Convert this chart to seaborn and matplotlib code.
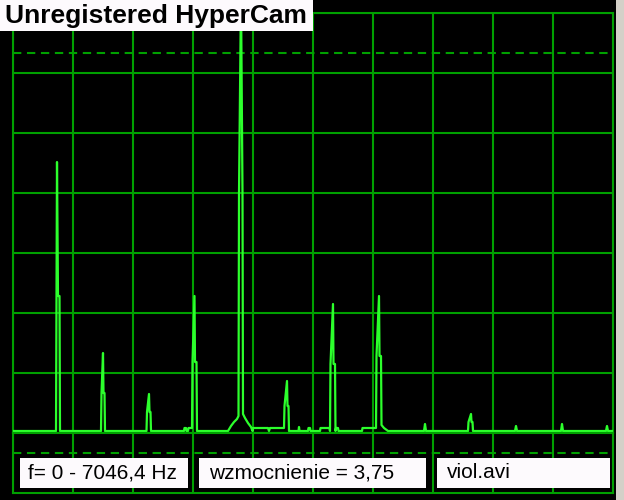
import matplotlib
matplotlib.use("Agg")
import matplotlib.pyplot as plt
import seaborn as sns
import pandas as pd
from matplotlib.patches import Rectangle

# ---- data: spectrum (FFT bin 0..600 spans 0 - 7046.4 Hz), amplitude in screen units ----
freq_bin = [0, 43, 44, 45, 46.5, 47,
            88, 88.5, 90, 90.5, 91.5, 92,
            133.5, 134, 136, 136.5, 137.5, 138,
            171, 171.5, 173, 173.5, 175, 175.5, 179,
            179.5, 181.5, 182, 183.5, 184,
            215, 218, 221, 224, 225.5, 226, 228, 229.5, 230, 232, 235, 238, 239.5,
            240, 255, 256, 257, 271,
            271.5, 274, 274.5, 275.5, 276,
            285.5, 286, 286.5, 295, 295.5, 297, 297.5, 307, 307.5, 316.5, 317,
            317.5, 320, 320.5, 322, 322.5, 323, 325, 325.5,
            349, 349.5, 363,
            363.5, 366, 366.5, 368, 368.5, 371, 375,
            411, 412, 413,
            455, 455.5, 458, 458.5, 459.5, 460,
            502, 503, 504,
            548, 549, 550,
            593, 594, 595, 600]
amplitude = [2, 2, 271, 137, 137, 2,
             2, 40, 80, 40, 40, 2,
             2, 21, 39, 21, 21, 2,
             2, 5, 5, 2, 2, 5, 5,
             71, 137, 71, 71, 2,
             2, 7, 11, 14, 17, 240, 440, 240, 19, 15, 10, 6, 2,
             5, 5, 2, 5, 5,
             27, 52, 27, 27, 2,
             2, 6, 2, 2, 5, 5, 2, 2, 5, 5, 2,
             69, 129, 69, 69, 2, 5, 5, 2,
             2, 5, 5,
             77, 137, 77, 77, 8, 5, 2,
             2, 9, 2,
             2, 11, 19, 11, 11, 2,
             2, 7, 2,
             2, 9, 2,
             2, 7, 2, 2]

title_text = "Unregistered HyperCam"
range_label = "f= 0 - 7046,4 Hz"
gain_label = "wzmocnienie = 3,75"
file_label = "viol.avi"

df = pd.DataFrame({"bin": freq_bin, "amp": amplitude})

sns.set_style("dark")
plt.rcParams["font.family"] = ["Liberation Sans", "DejaVu Sans"]

GRID = "#00a000"
TRACE = "#2cff2c"
W, H = 624, 500
fig = plt.figure(figsize=(W / 100, H / 100), dpi=100, facecolor="black")

def px_rect(x0, y0, x1, y1):
    return [x0 / W, 1 - y1 / H, (x1 - x0) / W, (y1 - y0) / H]

# main spectrum axes
ax = fig.add_axes(px_rect(13, 13, 613, 433))
ax.set_facecolor("black")
sns.lineplot(data=df, x="bin", y="amp", ax=ax, sort=False, estimator=None,
             color=TRACE, linewidth=1.6, zorder=5)
ax.set_xlim(0, 600)
ax.set_ylim(0, 420)
ax.set_xticks(range(0, 601, 60))
ax.set_yticks(range(0, 421, 60))
ax.grid(True, color=GRID, linewidth=1.5)
ax.axhline(380, color=GRID, linewidth=1.5, dashes=(4, 2.7), zorder=2)
ax.tick_params(length=0, labelbottom=False, labelleft=False)
ax.set_xlabel("")
ax.set_ylabel("")
for s in ax.spines.values():
    s.set_color(GRID)
    s.set_linewidth(1.5)
    s.set_visible(True)

# bottom status panel
bx = fig.add_axes(px_rect(13, 433, 613, 493))
bx.set_facecolor("black")
bx.set_xlim(0, 600)
bx.set_ylim(0, 60)
bx.set_xticks(range(0, 601, 60))
bx.set_yticks([])
bx.grid(True, axis="x", color=GRID, linewidth=1.5)
bx.axhline(40, color=GRID, linewidth=1.5, dashes=(4, 2.7), zorder=2)
bx.tick_params(length=0, labelbottom=False, labelleft=False)
for s in bx.spines.values():
    s.set_color(GRID)
    s.set_linewidth(1.5)
    s.set_visible(True)

label_font = ["Liberation Sans", "DejaVu Sans"]
boxes = [(20, 188, 28, range_label), (199, 426, 209, gain_label), (437, 610, 447, file_label)]
for x0, x1, tx, label in boxes:
    fig.patches.append(Rectangle((x0 / W, 1 - 488 / H), (x1 - x0) / W, 30 / H,
                                 transform=fig.transFigure, facecolor="#fdfafd",
                                 edgecolor="none", zorder=10))
    fig.text(tx / W, 1 - 473 / H, label, family=label_font, fontsize=15, color="black",
             ha="left", va="center", zorder=11)

# HyperCam watermark
fig.patches.append(Rectangle((0, 1 - 31 / H), 313 / W, 31 / H, transform=fig.transFigure,
                             facecolor="#fdfafd", edgecolor="none", zorder=10))
fig.text(5 / W, 1 - 16 / H, title_text, family=["Liberation Sans", "DejaVu Sans"],
         fontweight="bold", fontsize=19, color="black", ha="left", va="center", zorder=11)

# window edge
fig.patches.append(Rectangle((616 / W, 0), 8 / W, 1, transform=fig.transFigure,
                             facecolor="#d4d0c8", edgecolor="none", zorder=10))

fig.savefig("out.png", dpi=100, facecolor="black")
